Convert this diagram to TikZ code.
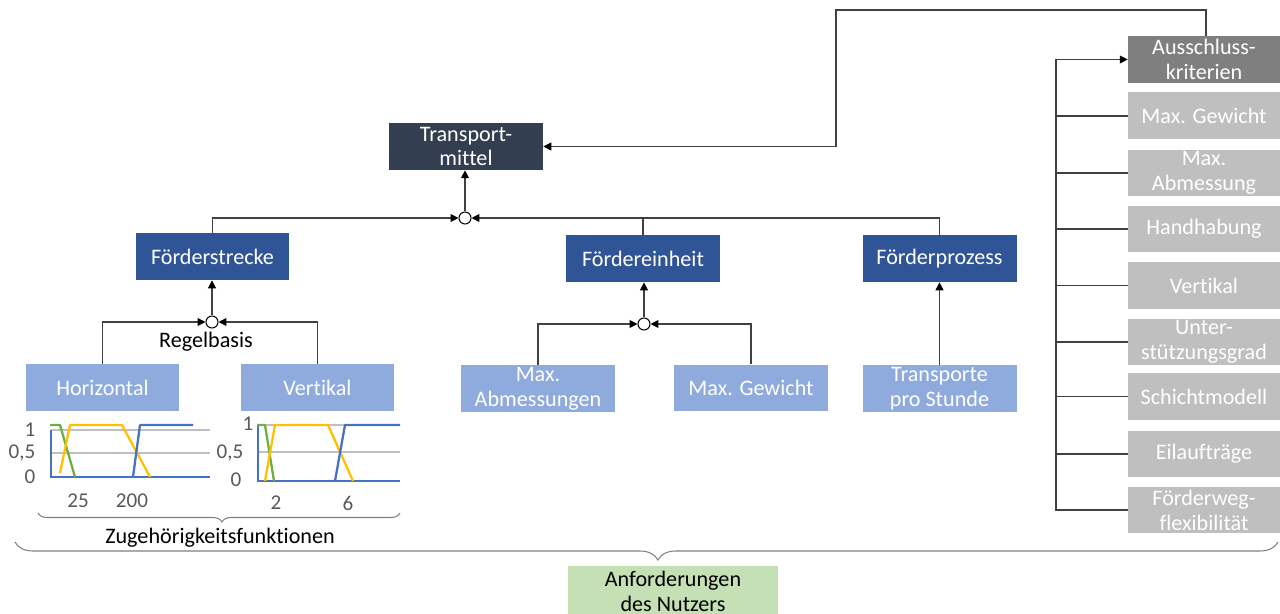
\documentclass[tikz,border=0pt]{standalone}
\usepackage{fontspec}
\setmainfont{Carlito}[Ligatures={NoCommon}]
\usetikzlibrary{arrows.meta,decorations.pathreplacing}
\definecolor{cdark}{HTML}{333F50}
\definecolor{cblue}{HTML}{2F5597}
\definecolor{clight}{HTML}{8FAADC}
\definecolor{cgrayd}{HTML}{7F7F7F}
\definecolor{cgrayl}{HTML}{BFBFBF}
\definecolor{cgreen}{HTML}{C5E0B4}
\definecolor{pgreen}{HTML}{70AD47}
\definecolor{pyellow}{HTML}{FFC000}
\definecolor{pblue}{HTML}{4472C4}
\definecolor{cline}{HTML}{404040}
\definecolor{cgrid}{HTML}{BFBFBF}
\definecolor{ctext}{HTML}{595959}
\tikzset{
  box/.style={minimum width=3.08cm, minimum height=0.94cm, inner sep=0pt, align=center,
    text=white, font=\fontsize{12.6}{14.2}\selectfont},
  rbox/.style={box, minimum width=3.04cm, fill=cgrayl},
  conn/.style={draw=cline, line width=0.6pt},
  arr/.style={conn, -{Triangle[length=4.5pt,width=4.5pt,color=black]}},
  junc/.style={circle, draw=black, fill=white, line width=0.6pt, minimum size=0.24cm, inner sep=0pt},
  lbl/.style={font=\fontsize{12.6}{14.2}\selectfont, text=black, inner sep=0pt},
  axlbl/.style={font=\fontsize{12}{13}\selectfont, text=ctext, inner sep=0pt},
  curve/.style={line width=1.3pt, line join=round},
  brc/.style={draw=gray, line width=0.6pt, decorate}
}
\begin{document}
\begin{tikzpicture}[x=0.02cm,y=-0.02cm]
\useasboundingbox (0,0) rectangle (1280,614);
% main nodes
\node[box, fill=cdark] (tm) at (466,146.5) {Transport-\\mittel};
\node[box, fill=cblue] (fs) at (212.5,256.5) {Förderstrecke};
\node[box, fill=cblue] (fe) at (643,258.5) {Fördereinheit};
\node[box, fill=cblue] (fp) at (939.5,258.5) {Förderprozess};
\node[box, fill=clight] (hz) at (102.5,387.5) {Horizontal};
\node[box, fill=clight] (vk) at (317.5,387.5) {Vertikal};
\node[box, fill=clight] (ma) at (538,388.5) {Max.\\Abmessungen};
\node[box, fill=clight] (mg) at (751,388) {Max. Gewicht};
\node[box, fill=clight] (tp) at (939.5,388.5) {Transporte\\pro Stunde};
% right column
\node[rbox, fill=cgrayd] (ak) at (1204,59.5) {Ausschluss-\\kriterien};
\node[rbox] (r1) at (1204,116) {Max. Gewicht};
\node[rbox] (r2) at (1204,173) {Max.\\Abmessung};
\node[rbox] (r3) at (1204,229) {Handhabung};
\node[rbox] (r4) at (1204,285.5) {Vertikal};
\node[rbox] (r5) at (1204,342) {Unter-\\stützungsgrad};
\node[rbox] (r6) at (1204,396.5) {Schichtmodell};
\node[rbox] (r7) at (1204,454) {Eilaufträge};
\node[rbox] (r8) at (1204,510) {Förderweg-\\flexibilität};
\node[box, fill=cgreen, text=black, minimum width=4.2cm, minimum height=1.0cm] (an) at (673,591) {Anforderungen\\des Nutzers};
% junctions
\node[junc] (j1) at (465,218) {};
\node[junc] (j2) at (212,322) {};
\node[junc] (j3) at (644,324) {};
\node[lbl] (rb) at (206,342) {Regelbasis};
% connectors
\draw[arr] (fs.north) |- (j1.west);
\draw[arr] (fp.north) |- (j1.east);
\draw[conn] (fe.north) -- (fe.north |- j1);
\draw[arr] (j1.north) -- (j1.north |- tm.south);
\draw[arr] (hz.north) |- (j2.west);
\draw[arr] (vk.north) |- (j2.east);
\draw[arr] (j2.north) -- (j2.north |- fs.south);
\draw[arr] (ma.north) |- (j3.west);
\draw[arr] (mg.north) |- (j3.east);
\draw[arr] (j3.north) -- (j3.north |- fe.south);
\draw[arr] (tp.north) -- (fp.south);
\coordinate (tc) at (836,10);
\draw[arr] ([xshift=0.04cm]ak.north) |- (tc) |- (tm.east);
\coordinate (rl) at (1056,300);
\draw[arr] (r8.west) -- (r8.west -| rl) |- (ak.west);
\foreach \n in {r1,r2,r3,r4,r5,r6,r7} \draw[conn] (\n.west) -- (\n.west -| rl);
% left chart
\draw[cgrid, line width=0.8pt] (51,430) -- (210,430) (51,453) -- (210,453);
\draw[pblue, line width=1.3pt] (51,430) -- (51,477) -- (210,477);
\draw[pgreen, curve] (50,425) -- (60,425) -- (75,477);
\draw[pyellow, curve] (60,473) -- (70,425) -- (122,425) -- (150,477);
\draw[pblue, curve] (133,477) -- (140,425) -- (193,425);
\node[axlbl] at (30,430) {1};
\node[axlbl] at (22,453) {0,5};
\node[axlbl] at (30,477) {0};
\node[axlbl] at (78,501) {25};
\node[axlbl] at (132,501) {200};
% right chart
\draw[cgrid, line width=0.8pt] (258,425) -- (400,425) (258,452) -- (400,452);
\draw[pblue, line width=1.3pt] (258,425) -- (258,481) -- (400,481);
\draw[pgreen, curve] (257,425) -- (265,425) -- (274,481);
\draw[pyellow, curve] (265,481) -- (275,425) -- (328,425) -- (353,481);
\draw[pblue, curve] (335,481) -- (345,425) -- (400,425);
\node[axlbl] at (248,424) {1};
\node[axlbl] at (230,453) {0,5};
\node[axlbl] at (236,480) {0};
\node[axlbl] at (276,503) {2};
\node[axlbl] at (348,503) {6};
% braces
\draw[brc, decoration={brace, mirror, amplitude=0.18cm, aspect=0.508}] (38,513) -- (400,513);
\node[lbl] (zf) at (220,538) {Zugehörigkeitsfunktionen};
\draw[brc, decoration={brace, mirror, amplitude=0.36cm, aspect=0.509}] (15,542) -- (1278,542);
\end{tikzpicture}
\end{document}
